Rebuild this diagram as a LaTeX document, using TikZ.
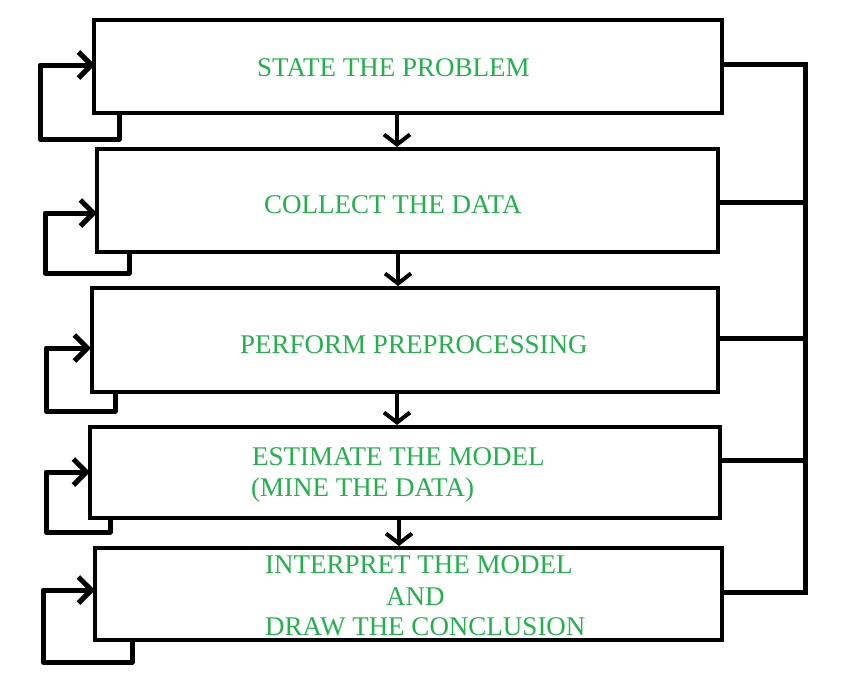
\documentclass[tikz,border=0pt]{standalone}
\usepackage{fontspec}
\setmainfont{Liberation Serif}
\usetikzlibrary{arrows.meta}
\definecolor{paintgreen}{RGB}{34,177,76}

\begin{document}
\begin{tikzpicture}[x=1pt,y=-1pt,
  box/.style={draw=black,line width=4pt,inner sep=0pt},
  txt/.style={anchor=base west,inner sep=0pt,text=paintgreen,font=\fontsize{27}{31}\selectfont},
  flow/.style={black,line width=4pt,-{Straight Barb[length=10pt,width=26pt]}},
  selfloop/.style={black,line width=5pt,line join=round,-{Straight Barb[length=13pt,width=26pt]}},
  bus/.style={black,line width=5pt}]
\useasboundingbox (0,0) rectangle (858,685);
\node [box,minimum width=628pt,minimum height=93pt] (b1) at (408,66.5) {};
\node [box,minimum width=621pt,minimum height=103pt] (b2) at (407.5,200.5) {};
\node [box,minimum width=626pt,minimum height=104pt] (b3) at (405,340) {};
\node [box,minimum width=630pt,minimum height=91pt] (b4) at (405,472.5) {};
\node [box,minimum width=627pt,minimum height=92pt] (b5) at (408.5,594) {};
\node [txt] (t1) at (257,76) {STATE THE PROBLEM};
\node [txt] (t2) at (264,213) {COLLECT THE DATA};
\node [txt] (t3) at (240,353) {PERFORM PREPROCESSING};
\node [txt] (t4a) at (252,465) {ESTIMATE THE MODEL};
\node [txt] (t4b) at (251,496) {(MINE THE DATA)};
\node [txt] (t5a) at (265,573) {INTERPRET THE MODEL};
\node [txt] (t5b) at (386,605) {AND};
\node [txt] (t5c) at (265,635) {DRAW THE CONCLUSION};
\draw [flow] (397,0 |- b1.south) -- (397,0 |- b2.north);
\draw [flow] (398,0 |- b2.south) -- (398,0 |- b3.north);
\draw [flow] (397,0 |- b3.south) -- (397,0 |- b4.north);
\draw [flow] (399,0 |- b4.south) -- (399,0 |- b5.north);
\coordinate (in1) at (95,65);
\coordinate (in2) at (97,213);
\coordinate (in3) at (91,348);
\coordinate (in4) at (90,472);
\coordinate (in5) at (95,590);
\draw [selfloop] (119,0 |- b1.south) |- ++(-79,24) |- (in1);
\draw [selfloop] (129,0 |- b2.south) |- ++(-84,19) |- (in2);
\draw [selfloop] (115,0 |- b3.south) |- ++(-69,17) |- (in3);
\draw [selfloop] (110,0 |- b4.south) |- ++(-64,12) |- (in4);
\draw [selfloop] (132,0 |- b5.south) |- ++(-89,20) |- (in5);
\coordinate (r1) at (805,64);
\coordinate (r2) at (805,202);
\coordinate (r3) at (805,338);
\coordinate (r4) at (805,460);
\coordinate (r5) at (805,592);
\draw [bus] (r1 -| b1.east) -- (r1);
\draw [bus] (r2 -| b2.east) -- (r2);
\draw [bus] (r3 -| b3.east) -- (r3);
\draw [bus] (r4 -| b4.east) -- (r4);
\draw [bus] (r5 -| b5.east) -- (r5);
\draw [bus] ([yshift=2.5pt]r1) -- ([yshift=-3pt]r5);
\end{tikzpicture}
\end{document}
